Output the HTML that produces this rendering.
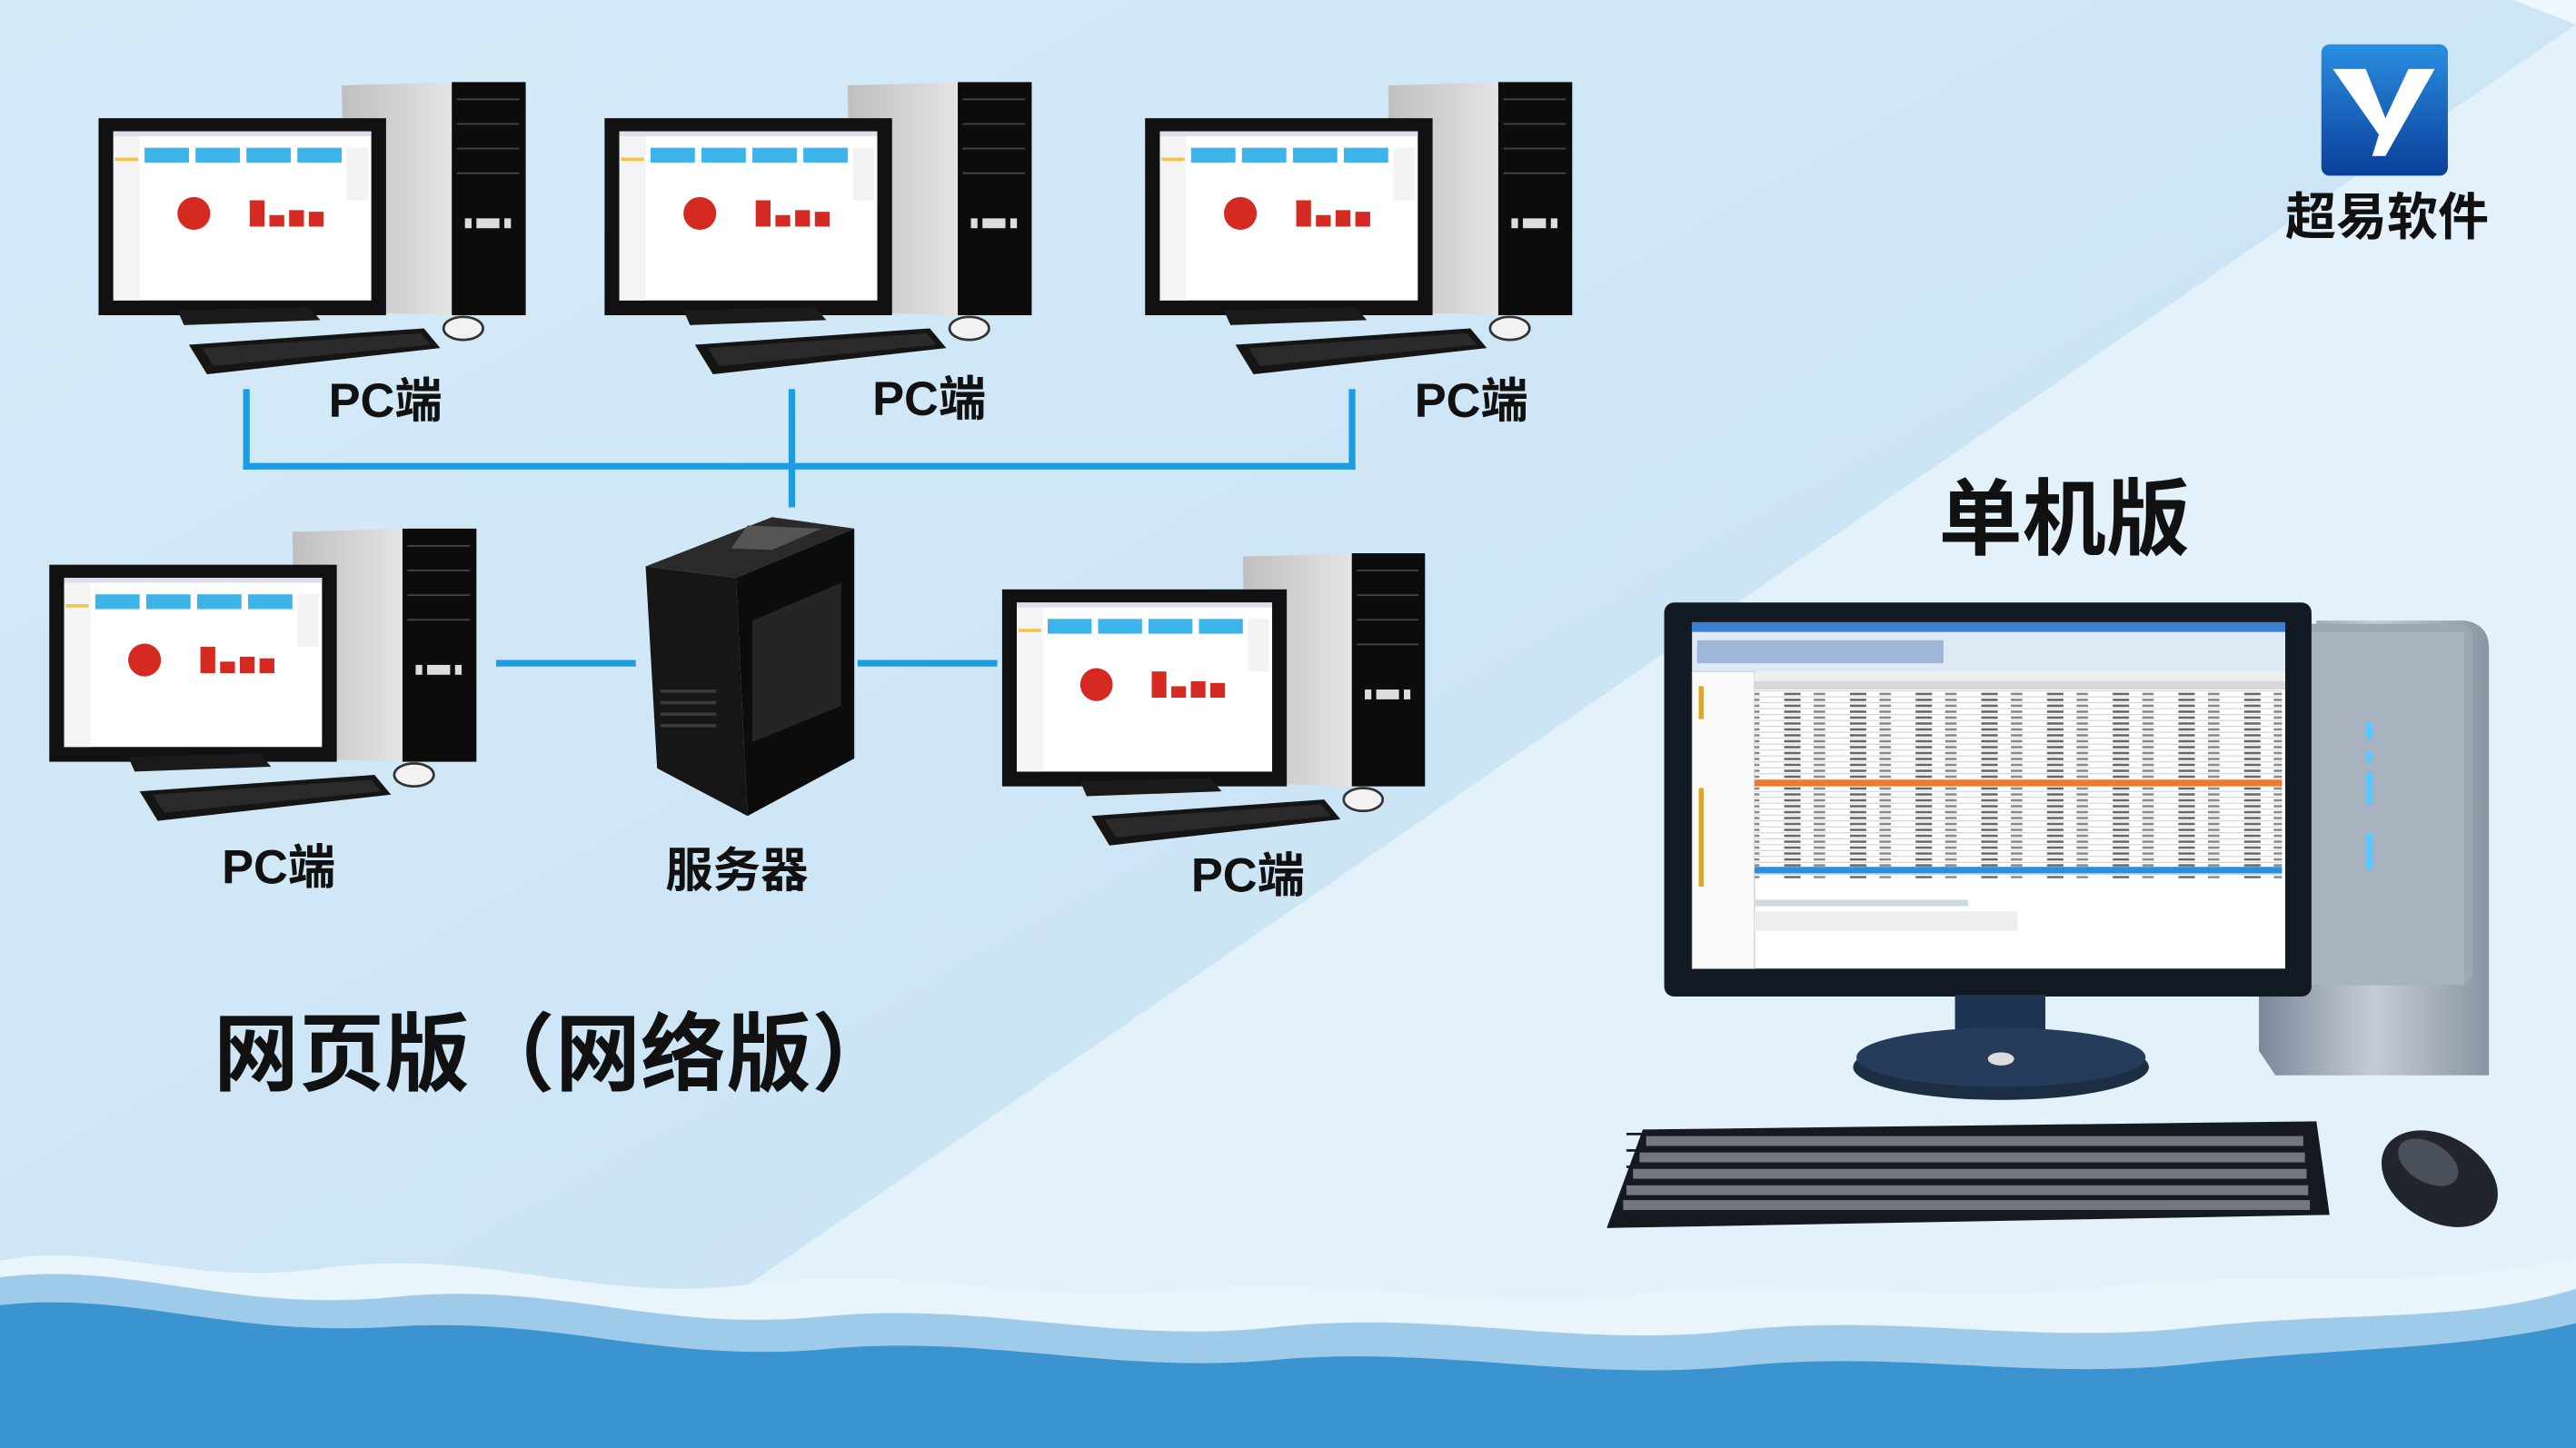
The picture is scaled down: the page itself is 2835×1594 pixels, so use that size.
<!DOCTYPE html>
<html><head><meta charset="utf-8"><style>
html,body{margin:0;padding:0;width:2835px;height:1594px;overflow:hidden;background:#cfe6f6}
svg{display:block}
text{font-family:"Liberation Sans","Noto Sans CJK SC",sans-serif;font-weight:bold;fill:#111}
</style></head><body>
<svg width="2835" height="1594" viewBox="0 0 1568 882" preserveAspectRatio="none" xmlns="http://www.w3.org/2000/svg">
<defs>
<linearGradient id="bg" x1="0" y1="0" x2="1" y2="1"><stop offset="0" stop-color="#d6ebf8"/><stop offset="1" stop-color="#c4e0f3"/></linearGradient>
<linearGradient id="silver" x1="0" x2="1"><stop offset="0" stop-color="#7c8898"/><stop offset=".5" stop-color="#c5ccd6"/><stop offset="1" stop-color="#8a95a3"/></linearGradient>
<linearGradient id="gray" x1="0" x2="1"><stop offset="0" stop-color="#bfbfbf"/><stop offset="1" stop-color="#e6e6e6"/></linearGradient>
<linearGradient id="logo" x1="0" y1="0" x2="0" y2="1"><stop offset="0" stop-color="#2a8ee0"/><stop offset="1" stop-color="#0b3e9a"/></linearGradient>
<pattern id="rows" width="40" height="3.6" patternUnits="userSpaceOnUse"><rect width="40" height="3.6" fill="#fff"/><rect y="3" width="40" height="0.5" fill="#c8c8c8"/><rect x="6" y="0.8" width="10" height="1.4" fill="#666"/><rect x="24" y="0.8" width="7" height="1.4" fill="#888"/></pattern>
<g id="pc">
  <polygon points="148,2 218,0 218,142 150,140" fill="url(#gray)"/>
  <rect x="215" y="0" width="45" height="142" fill="#0c0c0c"/>
  <rect x="218" y="10" width="38" height="1" fill="#444"/><rect x="218" y="25" width="38" height="1" fill="#444"/><rect x="218" y="40" width="38" height="1" fill="#444"/><rect x="218" y="55" width="38" height="1" fill="#444"/>
  <rect x="223" y="83" width="4" height="6" fill="#ddd"/><rect x="230" y="83" width="14" height="6" fill="#ddd"/><rect x="247" y="83" width="4" height="6" fill="#ddd"/>
  <rect x="0" y="22" width="175" height="120" fill="#111"/>
  <rect x="9" y="30" width="157" height="103" fill="#fff"/>
  <rect x="9" y="30" width="157" height="3" fill="#dde"/>
  <rect x="9" y="33" width="16" height="100" fill="#f4f4f4"/>
  <rect x="10" y="46" width="14" height="2" fill="#f2c24a"/>
  <rect x="28" y="40" width="27" height="9" fill="#3cb4ea"/><rect x="59" y="40" width="27" height="9" fill="#3cb4ea"/><rect x="90" y="40" width="27" height="9" fill="#3cb4ea"/><rect x="121" y="40" width="27" height="9" fill="#3cb4ea"/>
  <rect x="151" y="40" width="13" height="32" fill="#f3f3f3"/>
  <circle cx="58" cy="80" r="10" fill="#d42a22"/>
  <rect x="92" y="72" width="9" height="16" fill="#d42a22"/><rect x="104" y="81" width="9" height="7" fill="#d42a22"/><rect x="116" y="78" width="9" height="10" fill="#d42a22"/><rect x="128" y="79" width="9" height="9" fill="#d42a22"/>
  <rect x="86" y="138" width="16" height="8" fill="#222"/>
  <polygon points="48,139 128,137 135,145 52,148" fill="#1a1a1a"/>
  <polygon points="55,160 198,150 208,162 66,178" fill="#151515"/>
  <polygon points="63,162 196,153 202,160 70,173" fill="#2a2a2a"/>
  <ellipse cx="222" cy="150" rx="12" ry="7" fill="#f2f2f2" stroke="#333" stroke-width="1.5"/>
</g>
</defs>
<rect width="1568" height="882" fill="url(#bg)"/>
<polygon points="1568,15 430,800 1568,800" fill="#e3f1fb"/>
<polygon points="1530,0 1568,0 1568,15" fill="#eef7fd"/>

<path d="M0,768 C60,755 120,785 200,772 C300,760 360,795 460,782 C560,770 620,795 720,786 C820,776 900,800 1000,788 C1100,776 1180,796 1280,784 C1380,772 1450,790 1568,766 L1568,882 L0,882 Z" fill="#eaf4fb"/>
<path d="M0,778 C80,768 140,800 240,790 C340,780 400,812 500,802 C600,792 680,820 780,808 C880,798 960,822 1060,810 C1160,800 1240,820 1340,808 C1440,798 1500,806 1568,785 L1568,882 L0,882 Z" fill="#9fcbea"/>
<path d="M0,795 C80,786 140,815 240,808 C340,802 400,830 500,822 C600,812 680,838 780,828 C880,820 960,842 1060,832 C1160,822 1240,842 1340,830 C1440,820 1500,822 1568,806 L1568,882 L0,882 Z" fill="#3b94cf"/>

<g fill="#1d9ce0">
<rect x="148" y="237" width="4" height="49"/>
<rect x="480" y="237" width="4" height="72"/>
<rect x="821" y="237" width="4" height="49"/>
<rect x="148" y="282" width="677" height="4"/>
<rect x="302" y="402" width="85" height="4"/>
<rect x="522" y="402" width="85" height="4"/>
</g>

<use href="#pc" transform="translate(60,50)"/>
<use href="#pc" transform="translate(368,50)"/>
<use href="#pc" transform="translate(697,50)"/>
<use href="#pc" transform="translate(30,322)"/>
<use href="#pc" transform="translate(610,337) scale(0.99,1.0)"/>

<polygon points="393,345 470,315 520,322 448,352" fill="#2a2a2a"/>
<polygon points="455,320 500,322 470,335 445,334" fill="#555"/>
<polygon points="393,345 448,352 455,497 400,468" fill="#161616"/>
<polygon points="448,352 520,322 520,462 455,497" fill="#0c0c0c"/>
<polygon points="458,378 512,355 512,430 458,452" fill="#252525"/>
<g fill="#3a3a3a"><rect x="402" y="420" width="34" height="2"/><rect x="402" y="427" width="34" height="2"/><rect x="402" y="434" width="34" height="2"/><rect x="402" y="441" width="34" height="2"/></g>

<g font-size="29">
<text x="200" y="254">PC端</text>
<text x="531" y="253">PC端</text>
<text x="861" y="254">PC端</text>
<text x="135" y="538">PC端</text>
<text x="405" y="540">服务器</text>
<text x="725" y="543">PC端</text>
</g>
<text x="130" y="660" font-size="52">网页版（网络版）</text>
<text x="1180" y="334" font-size="51">单机版</text>

<rect x="1413" y="27" width="77" height="80" rx="5" fill="url(#logo)"/>
<polygon points="1420,42 1440,42 1452,72 1466,42 1482,42 1452,95 1444,95 1448,82" fill="#fff"/>
<text x="1391" y="143" font-size="31">超易软件</text>

<path d="M1410,378 L1500,378 Q1515,380 1515,395 L1515,655 L1385,655 L1375,640 L1375,600 L1405,590 Z" fill="url(#silver)"/>
<rect x="1385" y="380" width="120" height="220" rx="8" fill="#9ea8b5"/>
<rect x="1390" y="385" width="110" height="215" fill="#a9b3c0"/>
<rect x="1440" y="440" width="4" height="10" fill="#5cc8ff"/><rect x="1440" y="458" width="4" height="6" fill="#5cc8ff"/><rect x="1440" y="470" width="4" height="20" fill="#5cc8ff"/><rect x="1440" y="508" width="4" height="22" fill="#5cc8ff"/>
<rect x="1013" y="367" width="394" height="240" rx="6" fill="#121a24"/>
<rect x="1030" y="379" width="361" height="211" fill="#fff"/>
<rect x="1030" y="379" width="361" height="6" fill="#3c7fd0"/>
<rect x="1030" y="385" width="361" height="24" fill="#dfe9f6"/>
<rect x="1033" y="390" width="150" height="14" fill="#9fb6d6"/>
<rect x="1030" y="409" width="38" height="181" fill="#fafafa" stroke="#bbb" stroke-width=".5"/>
<rect x="1068" y="409" width="323" height="6" fill="#eee"/>
<rect x="1068" y="415" width="323" height="5" fill="#d8d8d8"/>
<rect x="1068" y="420" width="321" height="115" fill="url(#rows)"/>
<rect x="1068" y="475" width="321" height="4" fill="#f07a2a"/>
<rect x="1068" y="528" width="321" height="4" fill="#2b8fe0"/>
<rect x="1068" y="548" width="130" height="4" fill="#cdd"/>
<rect x="1068" y="555" width="160" height="12" fill="#eee"/>
<g fill="#d9a72a"><rect x="1034" y="418" width="3" height="20"/><rect x="1034" y="480" width="3" height="60"/></g>
<rect x="1190" y="606" width="55" height="32" fill="#1d3550"/>
<ellipse cx="1218" cy="650" rx="90" ry="20" fill="#1c2e44"/>
<ellipse cx="1218" cy="644" rx="88" ry="18" fill="#253d5a"/>
<ellipse cx="1218" cy="645" rx="8" ry="4" fill="#ddd"/>
<polygon points="1000,688 1410,683 1418,740 978,748" fill="#161a20"/>
<g fill="#8a8f98" opacity=".8">
<rect x="1002" y="692" width="400" height="6"/><rect x="998" y="702" width="405" height="6"/><rect x="994" y="712" width="410" height="6"/><rect x="990" y="722" width="415" height="6"/><rect x="988" y="731" width="418" height="6"/>
</g>
<g fill="#161a20"><rect x="990" y="690" width="420" height="1.5"/><rect x="990" y="700" width="420" height="1.5"/><rect x="990" y="710" width="420" height="1.5"/><rect x="990" y="720" width="420" height="1.5"/><rect x="990" y="729" width="420" height="1.5"/></g>
<ellipse cx="1485" cy="718" rx="38" ry="26" transform="rotate(30 1485 718)" fill="#22262c"/>
<ellipse cx="1478" cy="708" rx="20" ry="12" transform="rotate(30 1478 708)" fill="#4a505a"/>
</svg>
</body></html>
